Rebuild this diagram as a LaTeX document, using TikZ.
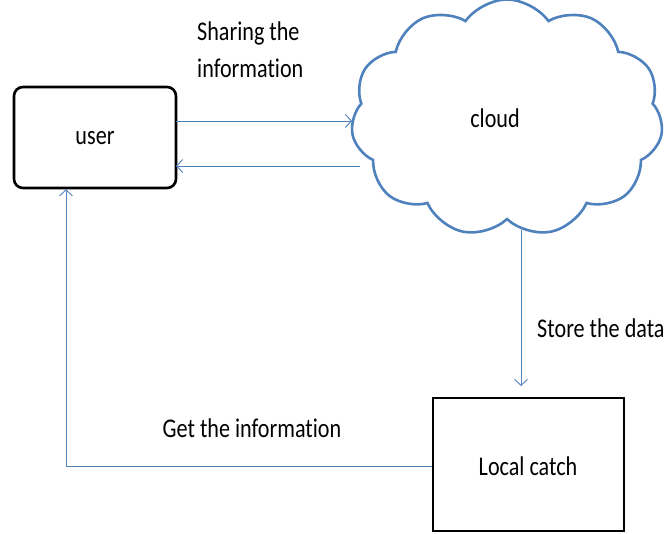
\documentclass[tikz,border=0pt]{standalone}
\usepackage{fontspec}
\setmainfont{Carlito}[Ligatures=NoCommon, FakeStretch=0.82]
\usetikzlibrary{shapes.symbols,arrows.meta}
\definecolor{linkblue}{HTML}{4F81BD}
\begin{document}
\begin{tikzpicture}[x=1pt,y=-1pt,
  lbl/.style={font=\fontsize{27}{37}\selectfont, inner sep=0pt},
  flow/.style={draw=linkblue, line width=0.9pt, -{Straight Barb[length=6pt,width=13pt]}},
  boxed/.style={draw, line width=2.6pt}
]
\useasboundingbox (0,0) rectangle (666,533);
% user box
\node[boxed, rounded corners=9pt, minimum width=162pt, minimum height=101pt] (user) at (95,137.5) {};
\node[lbl] (usertxt) at (95,138) {user};
% cloud
\node[cloud, cloud puffs=11, cloud puff arc=110, aspect=1.4, draw=linkblue, line width=2.6pt,
      minimum width=312pt, minimum height=237pt] (cloud) at (507,118) {};
\node[lbl] (cloudtxt) at (495,118) {cloud};
% local catch box
\node[boxed, minimum width=191pt, minimum height=133pt] (lc) at (528.5,464.5) {};
\node[lbl] (lctxt) at (528,466) {Local catch};
% connector ends
\coordinate (sendA) at (176,121);
\coordinate (sendB) at (352,121);
\coordinate (backA) at (360,166);
\coordinate (backB) at (176,166);
\coordinate (storeA) at (521,230);
\coordinate (storeB) at (521,386);
\coordinate (corner) at (66,466);
% connectors
\draw[flow] (sendA) -- (sendB);
\draw[flow] (backA) -- (backB);
\draw[flow] (storeA) -- (storeB);
\draw[flow] (lc.west |- corner) -- (corner) -- (corner |- user.south);
% labels
\node[lbl, align=left, anchor=north west] (share) at (197,22) {Sharing the\\information};
\node[lbl, anchor=west] (store) at (537,328) {Store the data};
\node[lbl] (get) at (252,428) {Get the information};
\end{tikzpicture}
\end{document}
